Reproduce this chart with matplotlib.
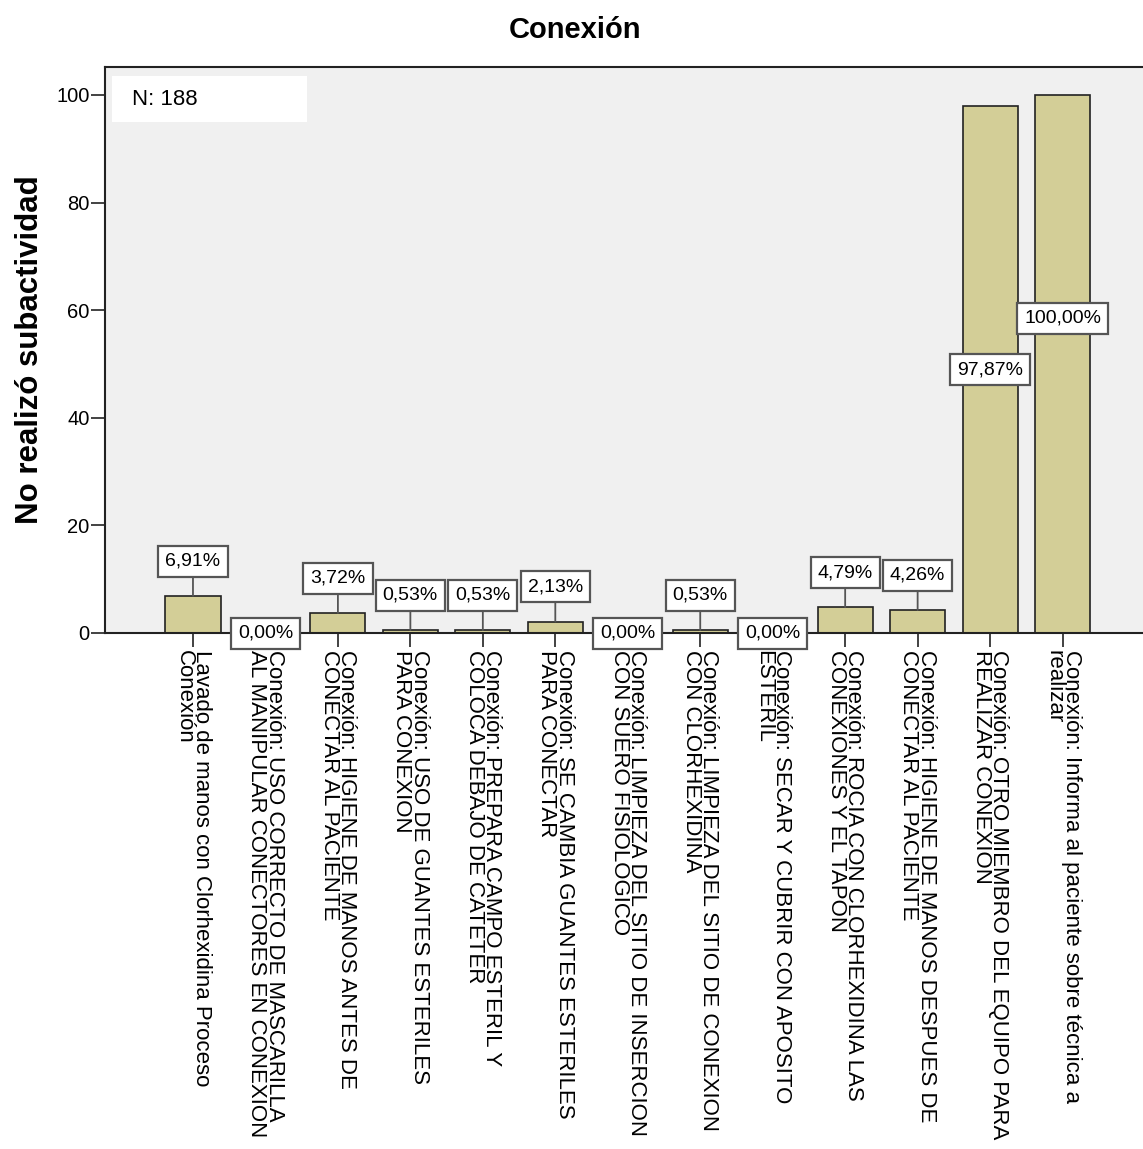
import numpy as np
import matplotlib
matplotlib.use("Agg")
from matplotlib import pyplot as plt
from matplotlib.patches import Rectangle

plt.rcParams['font.family'] = ['Liberation Sans', 'DejaVu Sans']

categories = [
    "Lavado de manos con Clorhexidina Proceso\nConexión",
    "Conexión: USO CORRECTO DE MASCARILLA\nAL MANIPULAR CONECTORES EN CONEXION",
    "Conexión: HIGIENE DE MANOS ANTES DE\nCONECTAR AL PACIENTE",
    "Conexión: USO DE GUANTES ESTERILES\nPARA CONEXION",
    "Conexión: PREPARA CAMPO ESTERIL Y\nCOLOCA DEBAJO DE CATETER",
    "Conexión: SE CAMBIA GUANTES ESTERILES\nPARA CONECTAR",
    "Conexión: LIMPIEZA DEL SITIO DE INSERCION\nCON SUERO FISIOLOGICO",
    "Conexión: LIMPIEZA DEL SITIO DE CONEXION\nCON CLORHEXIDINA",
    "Conexión: SECAR Y CUBRIR CON APOSITO\nESTERIL",
    "Conexión: ROCIA CON CLORHEXIDINA LAS\nCONEXIONES Y EL TAPON",
    "Conexión: HIGIENE DE MANOS DESPUES DE\nCONECTAR AL PACIENTE",
    "Conexión: OTRO MIEMBRO DEL EQUIPO PARA\nREALIZAR CONEXION",
    "Conexión: Informa al paciente sobre técnica a\nrealizar",
]
values = [6.91, 0.00, 3.72, 0.53, 0.53, 2.13, 0.00, 0.53, 0.00, 4.79, 4.26, 97.87, 100.00]
yticks = [0, 20, 40, 60, 80, 100]
n_total = 188

bar_color = "#d3ce97"
bg_color = "#f0f0f0"

fig = plt.figure(figsize=(11.43, 11.49), dpi=100)
ax = fig.add_axes([105/1143, 1-633/1149, 1-105/1143, (633-67)/1149])
ax.set_facecolor(bg_color)

x = np.arange(len(values))
ax.bar(x, values, width=0.76, color=bar_color, edgecolor="#222222", linewidth=1.2, zorder=2)

ax.set_xlim(-1.214, 13.11)
ax.set_ylim(0, 105.2)
ax.set_yticks(yticks)
ax.set_yticklabels([str(t) for t in yticks], fontsize=14.5)
ax.set_xticks(x)
ax.set_xticklabels(categories, rotation=270, fontsize=16, ha='center', va='top',
                   multialignment='left', linespacing=0.78)
ax.tick_params(axis='both', length=10, width=1.2, color="#222222")
ax.tick_params(axis='x', pad=2)
ax.tick_params(axis='y', pad=1)
ax.spines['right'].set_visible(False)
for s in ['left', 'top', 'bottom']:
    ax.spines[s].set_linewidth(1.5)
    ax.spines[s].set_color("#222222")

# value labels
box = dict(boxstyle="square,pad=0.36", fc="white", ec="#555555", lw=1.6)
for i, v in enumerate(values):
    txt = f"{v:.2f}".replace(".", ",") + "%"
    if v == 0:
        ax.text(i, 0, txt, ha='center', va='center', fontsize=14, bbox=box, zorder=4)
    elif v > 50:
        ypos = v / 2 if i < len(values) - 1 else v * 0.585
        ax.text(i, ypos, txt, ha='center', va='center', fontsize=14, bbox=box, zorder=4)
    else:
        ax.annotate(txt, xy=(i, v), xytext=(0, 25), textcoords='offset points',
                    ha='center', va='center', fontsize=14, bbox=box, zorder=4,
                    arrowprops=dict(arrowstyle='-', color="#555555", lw=1.3,
                                    shrinkA=0, shrinkB=0))

# N box
ax.add_patch(Rectangle((0.0067, 0.903), 0.188, 0.081, transform=ax.transAxes,
                       fc="white", ec="none", zorder=3))
ax.text(0.026, 0.942, f"N: {n_total}", transform=ax.transAxes, fontsize=16,
        va='center', ha='left', zorder=4)

fig.text(575/1143, 1-30/1149, "Conexión", ha='center', va='center',
         fontsize=21, fontweight='bold')
fig.text(30/1143, 1-350/1149, "No realizó subactividad", ha='center', va='center',
         rotation=90, fontsize=22.5, fontweight='bold')

fig.savefig("out.png", dpi=100, facecolor="white")
